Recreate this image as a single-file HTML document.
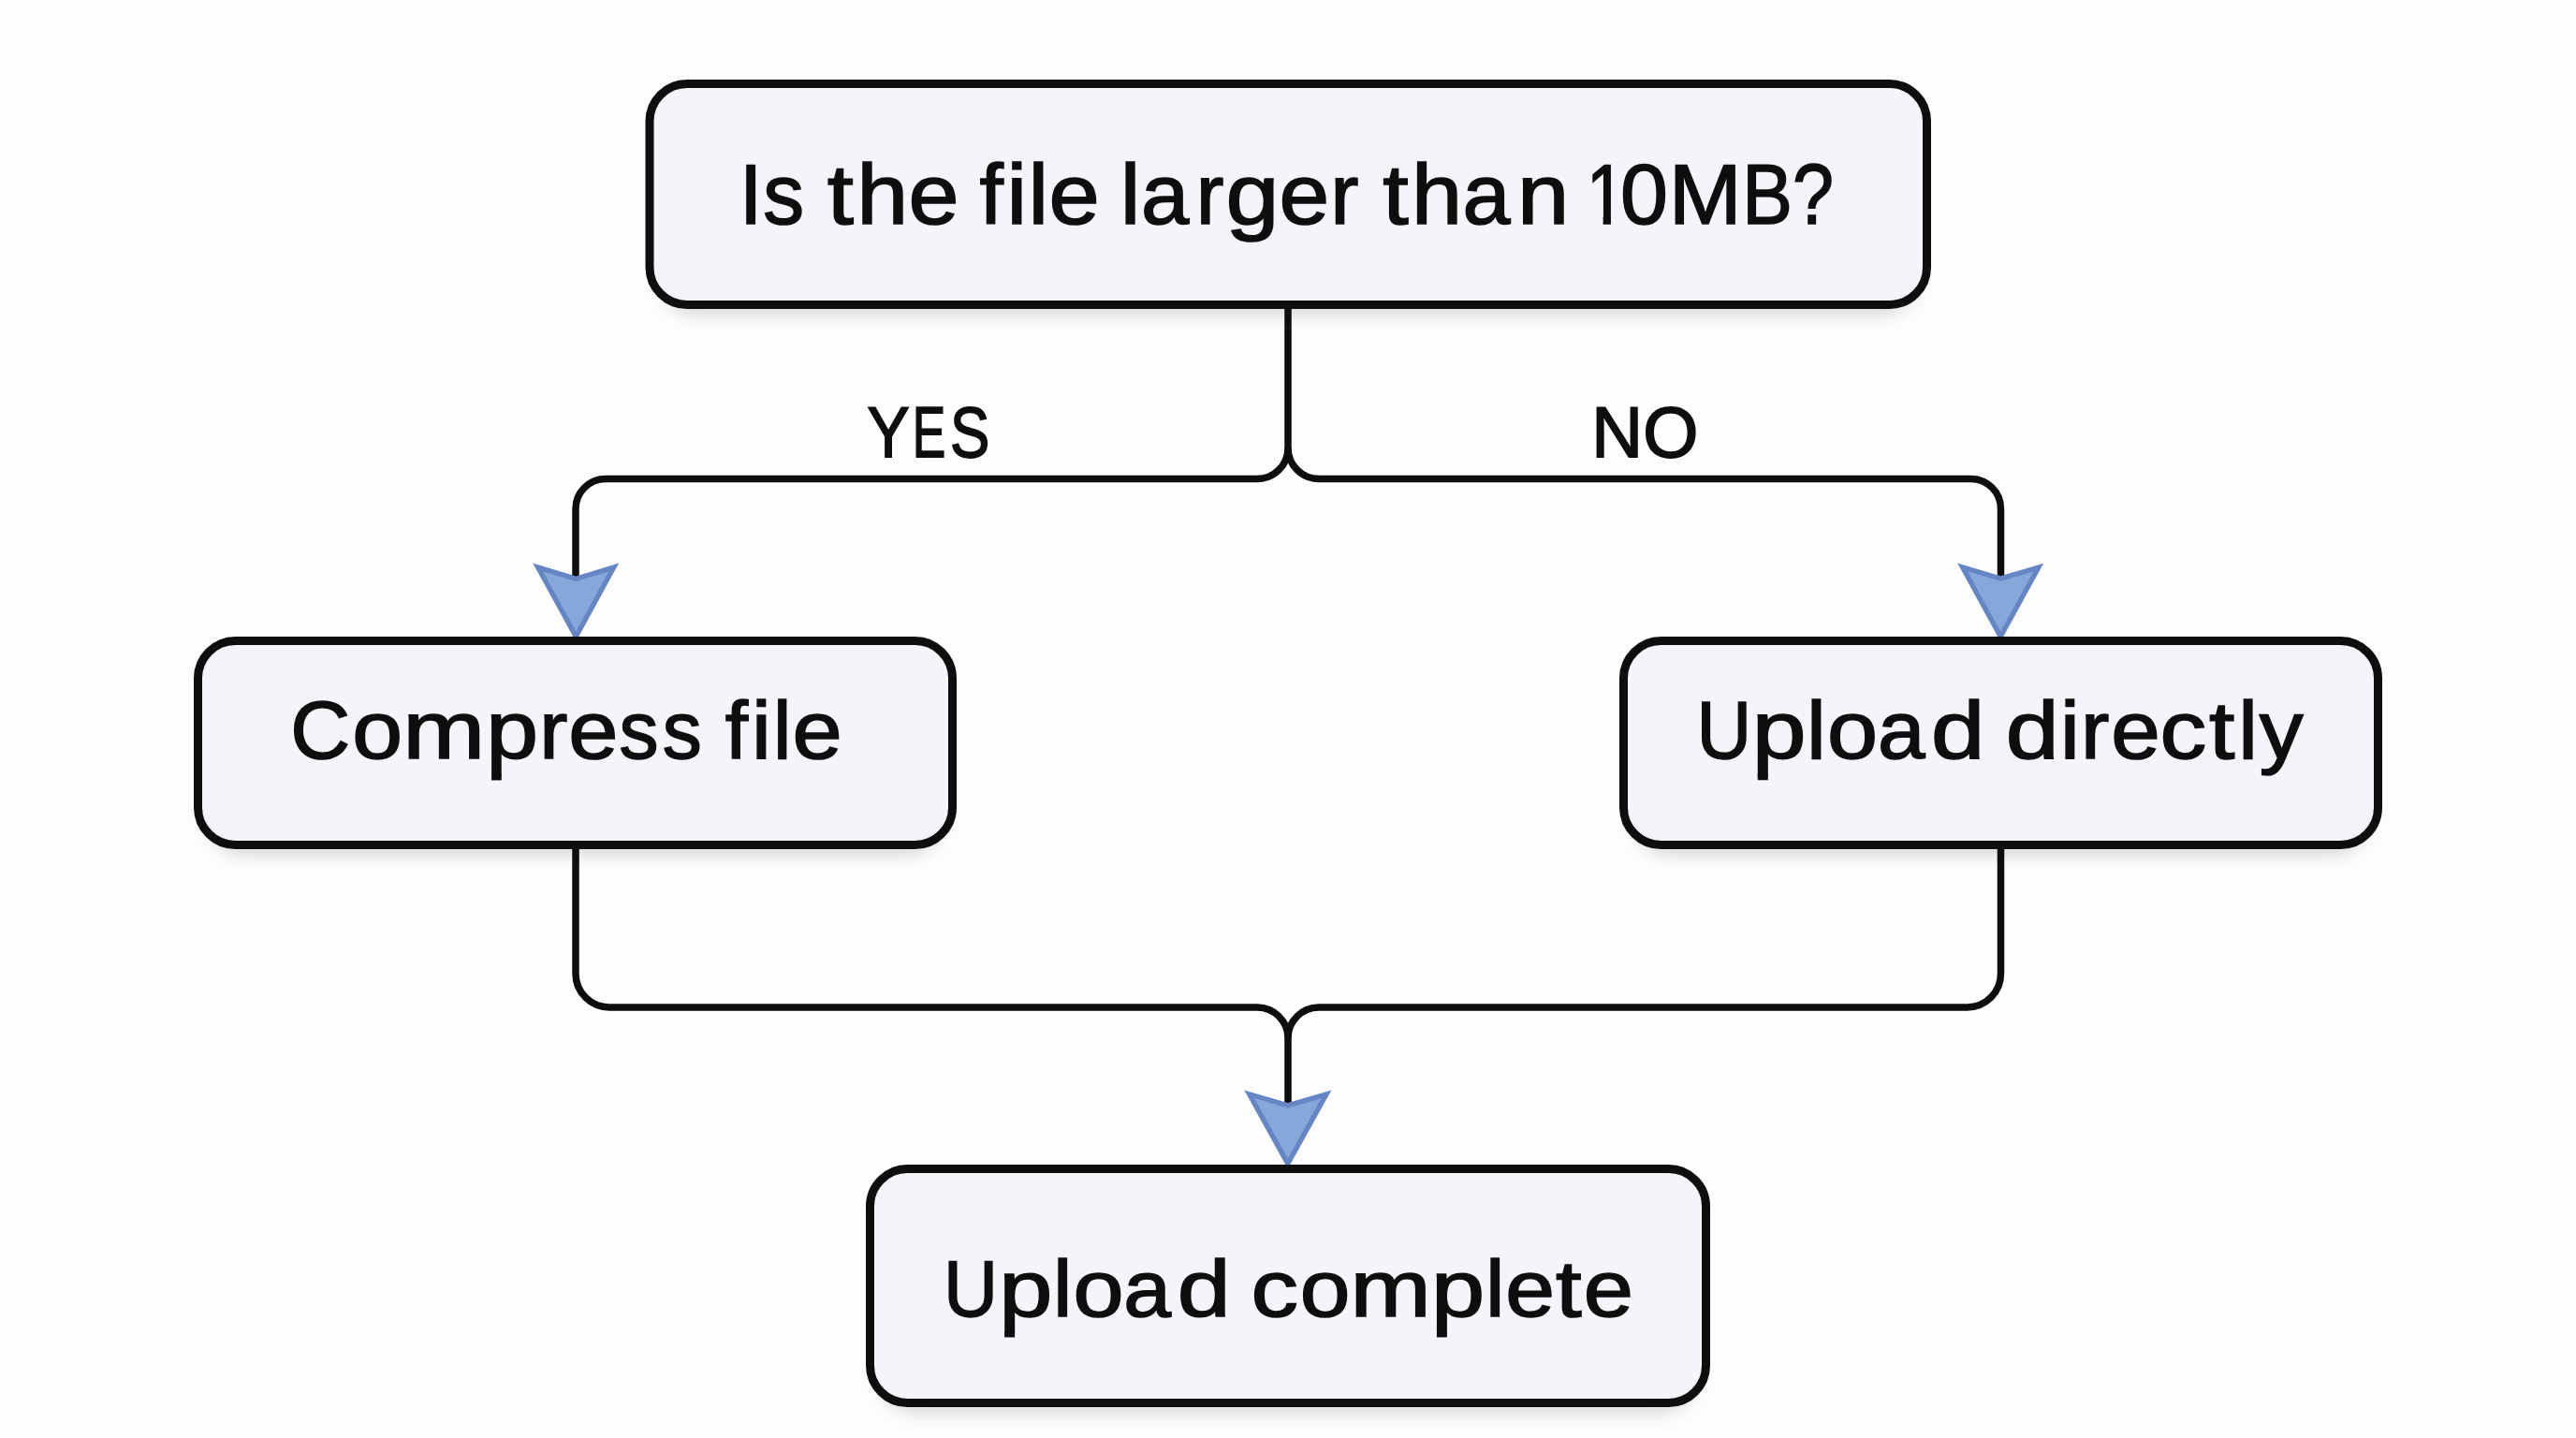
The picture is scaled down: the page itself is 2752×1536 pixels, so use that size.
<!DOCTYPE html>
<html>
<head>
<meta charset="utf-8">
<style>
html,body{margin:0;padding:0;background:#fdfdfd;width:2752px;height:1536px;overflow:hidden;}
svg{position:absolute;left:0;top:0;display:block;}
text{font-family:"Liberation Sans", sans-serif;fill:#0e0e0e;stroke:#0e0e0e;}
</style>
</head>
<body>
<svg width="2752" height="1536" viewBox="0 0 2752 1536">
<defs>
<filter id="blur" x="-10%" y="-30%" width="120%" height="160%">
<feGaussianBlur stdDeviation="9"/>
</filter>
<clipPath id="c1_top"><rect x="-20" y="-150" width="80" height="141.08"/><rect x="21.63" y="-150" width="9.95" height="170"/></clipPath>
</defs>
<g fill="none" stroke="#0e0e0e" stroke-width="7.5">
<path d="M1376 330 V478 A33 33 0 0 1 1343 511.5 H647 A32 32 0 0 0 615 543.5 V618"/>
<path d="M1376 478 A33 33 0 0 0 1409 511.5 H2105 A32 32 0 0 1 2137.5 543.5 V618"/>
<path d="M615 900 V1040 A36 36 0 0 0 651 1076 H1343 A33 33 0 0 1 1376 1109 V1180"/>
<path d="M2137.5 900 V1040 A36 36 0 0 1 2101.5 1076 H1409 A33 33 0 0 0 1376 1109"/>
</g>
<g>
<polygon points="569.20,601.60 615.30,615.50 661.20,601.60 615.30,685.50" fill="#6585c4"/>
<polygon points="580.09,610.42 615.30,621.04 650.33,610.43 615.29,674.48" fill="#87a6da"/>
<polygon points="2091.20,601.60 2137.20,615.20 2183.20,601.80 2137.20,685.50" fill="#6585c4"/>
<polygon points="2102.03,610.33 2137.19,620.72 2172.39,610.47 2137.21,674.49" fill="#87a6da"/>
<polygon points="1329.20,1164.40 1375.80,1178.00 1422.40,1164.60 1375.80,1248.50" fill="#6585c4"/>
<polygon points="1340.08,1173.10 1375.79,1183.52 1411.54,1173.24 1375.81,1237.57" fill="#87a6da"/>
</g>
<g fill="#000" fill-opacity="0.15" filter="url(#blur)">
<rect x="704" y="100.5" width="1344.5" height="236" rx="40"/>
<rect x="221.5" y="695.5" width="786" height="218" rx="40"/>
<rect x="1744.5" y="695.5" width="786" height="218" rx="40"/>
<rect x="939.5" y="1259.5" width="873" height="250" rx="40"/>
</g>
<g fill="#f3f5fb" stroke="#0e0e0e" stroke-width="9">
<rect x="694" y="89.5" width="1364.5" height="236" rx="40"/>
<rect x="211.5" y="684.5" width="806" height="218" rx="40"/>
<rect x="1734.5" y="684.5" width="806" height="218" rx="40"/>
<rect x="929.5" y="1248.5" width="893" height="250" rx="40"/>
</g>
<g>
<text transform="translate(789.86 239.0) scale(0.9906 1)" font-size="90" stroke-width="1.6">I</text>
<text transform="translate(815.14 239.0) scale(0.9745 1)" font-size="90" stroke-width="1.6">s</text>
<text transform="translate(883.67 239.0) scale(1.1268 1)" font-size="90" stroke-width="1.6">t</text>
<text transform="translate(915.22 239.0) scale(1.0994 1)" font-size="90" stroke-width="1.6">h</text>
<text transform="translate(970.44 239.0) scale(1.0791 1)" font-size="90" stroke-width="1.6">e</text>
<text transform="translate(1046.52 239.0) scale(1.0133 1)" font-size="90" stroke-width="1.6">f</text>
<text transform="translate(1075.38 239.0) scale(1.0800 1)" font-size="90" stroke-width="1.6">i</text>
<text transform="translate(1098.48 239.0) scale(1.0800 1)" font-size="90" stroke-width="1.6">l</text>
<text transform="translate(1120.62 239.0) scale(1.0837 1)" font-size="90" stroke-width="1.6">e</text>
<text transform="translate(1196.73 239.0) scale(1.0800 1)" font-size="90" stroke-width="1.6">l</text>
<text transform="translate(1219.00 239.0) scale(1.0245 1)" font-size="90" stroke-width="1.6">a</text>
<text transform="translate(1277.77 239.0) scale(0.9917 1)" font-size="90" stroke-width="1.6">r</text>
<text transform="translate(1309.51 239.0) scale(1.1385 1)" font-size="90" stroke-width="1.6">g</text>
<text transform="translate(1366.46 239.0) scale(1.0723 1)" font-size="90" stroke-width="1.6">e</text>
<text transform="translate(1421.28 239.0) scale(1.0083 1)" font-size="90" stroke-width="1.6">r</text>
<text transform="translate(1477.18 239.0) scale(1.0983 1)" font-size="90" stroke-width="1.6">t</text>
<text transform="translate(1508.12 239.0) scale(1.0817 1)" font-size="90" stroke-width="1.6">h</text>
<text transform="translate(1562.62 239.0) scale(1.0182 1)" font-size="90" stroke-width="1.6">a</text>
<text transform="translate(1620.98 239.0) scale(1.1046 1)" font-size="90" stroke-width="1.6">n</text>
<text transform="translate(1694.65 239.0) scale(0.8330 1)" font-size="90" stroke-width="1.6" clip-path="url(#c1_top)">1</text>
<text transform="translate(1731.04 239.0) scale(1.0174 1)" font-size="90" stroke-width="1.6">0</text>
<text transform="translate(1782.85 239.0) scale(1.0404 1)" font-size="90" stroke-width="1.6">M</text>
<text transform="translate(1861.31 239.0) scale(0.8949 1)" font-size="90" stroke-width="1.6">B</text>
<text transform="translate(1914.96 239.0) scale(0.8785 1)" font-size="90" stroke-width="1.6">?</text>
<text transform="translate(926.41 488.2) scale(0.8911 1)" font-size="76" stroke-width="1.8">Y</text>
<text transform="translate(974.67 488.2) scale(0.7001 1)" font-size="76" stroke-width="1.8">E</text>
<text transform="translate(1015.07 488.2) scale(0.8342 1)" font-size="76" stroke-width="1.8">S</text>
<text transform="translate(1700.17 488.2) scale(0.9988 1)" font-size="76" stroke-width="1.8">N</text>
<text transform="translate(1755.30 488.2) scale(1.0004 1)" font-size="76" stroke-width="1.8">O</text>
<text transform="translate(310.22 810.2) scale(1.0234 1)" font-size="86.5" stroke-width="1.6">C</text>
<text transform="translate(376.33 810.2) scale(1.1192 1)" font-size="86.5" stroke-width="1.6">o</text>
<text transform="translate(430.37 810.2) scale(1.2201 1)" font-size="86.5" stroke-width="1.6">m</text>
<g transform="translate(519.26 810.2) scale(1.1605 1)"><text font-size="86.5" stroke-width="1.6">p</text><rect x="5.03" y="16.95" width="9.20" height="6.30" fill="#0e0e0e"/></g>
<text transform="translate(576.13 810.2) scale(1.0463 1)" font-size="86.5" stroke-width="1.6">r</text>
<text transform="translate(607.32 810.2) scale(1.1046 1)" font-size="86.5" stroke-width="1.6">e</text>
<text transform="translate(661.54 810.2) scale(0.9716 1)" font-size="86.5" stroke-width="1.6">s</text>
<text transform="translate(707.74 810.2) scale(0.9716 1)" font-size="86.5" stroke-width="1.6">s</text>
<text transform="translate(774.87 810.2) scale(1.0108 1)" font-size="86.5" stroke-width="1.6">f</text>
<text transform="translate(802.95 810.2) scale(1.0800 1)" font-size="86.5" stroke-width="1.6">i</text>
<text transform="translate(826.12 810.2) scale(1.0106 1)" font-size="86.5" stroke-width="1.6">l</text>
<text transform="translate(846.62 810.2) scale(1.1046 1)" font-size="86.5" stroke-width="1.6">e</text>
<text transform="translate(1812.48 810.2) scale(0.9404 1)" font-size="86.5" stroke-width="1.6">U</text>
<g transform="translate(1871.66 810.2) scale(1.2025 1)"><text font-size="86.5" stroke-width="1.6">p</text><rect x="5.03" y="16.95" width="9.20" height="6.10" fill="#0e0e0e"/></g>
<text transform="translate(1930.00 810.2) scale(1.0800 1)" font-size="86.5" stroke-width="1.6">l</text>
<text transform="translate(1952.12 810.2) scale(1.1239 1)" font-size="86.5" stroke-width="1.6">o</text>
<text transform="translate(2005.88 810.2) scale(1.0514 1)" font-size="86.5" stroke-width="1.6">a</text>
<text transform="translate(2062.92 810.2) scale(1.1926 1)" font-size="86.5" stroke-width="1.6">d</text>
<text transform="translate(2142.75 810.2) scale(1.1827 1)" font-size="86.5" stroke-width="1.6">d</text>
<text transform="translate(2200.90 810.2) scale(1.0800 1)" font-size="86.5" stroke-width="1.6">i</text>
<text transform="translate(2223.08 810.2) scale(1.0549 1)" font-size="86.5" stroke-width="1.6">r</text>
<text transform="translate(2255.16 810.2) scale(1.0927 1)" font-size="86.5" stroke-width="1.6">e</text>
<text transform="translate(2307.40 810.2) scale(1.1493 1)" font-size="86.5" stroke-width="1.6">c</text>
<text transform="translate(2360.12 810.2) scale(1.1397 1)" font-size="86.5" stroke-width="1.6">t</text>
<text transform="translate(2391.30 810.2) scale(1.0800 1)" font-size="86.5" stroke-width="1.6">l</text>
<text transform="translate(2413.74 810.2) scale(1.0816 1)" font-size="86.5" stroke-width="1.6">y</text>
<text transform="translate(1007.95 1406.0) scale(0.9465 1)" font-size="85" stroke-width="1.6">U</text>
<g transform="translate(1067.14 1406.0) scale(1.2103 1)"><text font-size="85" stroke-width="1.6">p</text><rect x="4.93" y="16.64" width="9.07" height="5.80" fill="#0e0e0e"/></g>
<text transform="translate(1125.08 1406.0) scale(1.0800 1)" font-size="85" stroke-width="1.6">l</text>
<text transform="translate(1146.53 1406.0) scale(1.1429 1)" font-size="85" stroke-width="1.6">o</text>
<text transform="translate(1200.18 1406.0) scale(1.0737 1)" font-size="85" stroke-width="1.6">a</text>
<text transform="translate(1257.87 1406.0) scale(1.2028 1)" font-size="85" stroke-width="1.6">d</text>
<text transform="translate(1336.56 1406.0) scale(1.1870 1)" font-size="85" stroke-width="1.6">c</text>
<text transform="translate(1388.75 1406.0) scale(1.1358 1)" font-size="85" stroke-width="1.6">o</text>
<text transform="translate(1442.50 1406.0) scale(1.2182 1)" font-size="85" stroke-width="1.6">m</text>
<g transform="translate(1528.94 1406.0) scale(1.2103 1)"><text font-size="85" stroke-width="1.6">p</text><rect x="4.93" y="16.64" width="9.07" height="5.80" fill="#0e0e0e"/></g>
<text transform="translate(1586.98 1406.0) scale(1.0800 1)" font-size="85" stroke-width="1.6">l</text>
<text transform="translate(1608.36 1406.0) scale(1.1161 1)" font-size="85" stroke-width="1.6">e</text>
<text transform="translate(1662.03 1406.0) scale(1.1713 1)" font-size="85" stroke-width="1.6">t</text>
<text transform="translate(1691.64 1406.0) scale(1.1257 1)" font-size="85" stroke-width="1.6">e</text>
</g>
</svg>
</body>
</html>
